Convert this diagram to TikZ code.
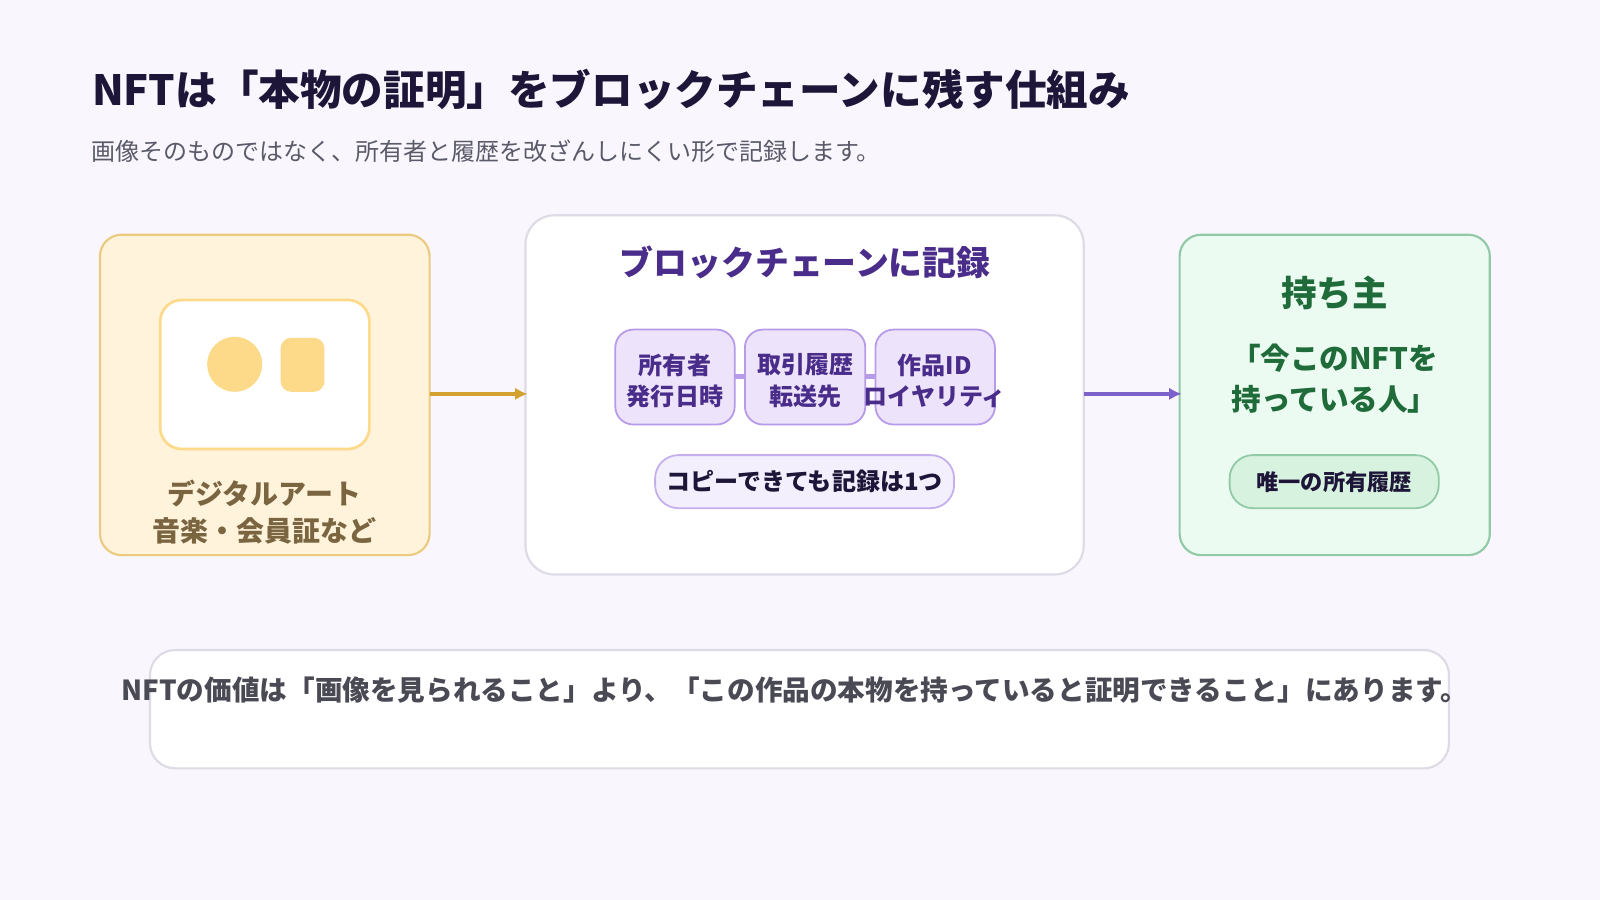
\documentclass[tikz,border=0pt]{standalone}
\usepackage{fontspec}
\setmainfont{Noto Sans CJK JP}
\usetikzlibrary{arrows.meta}
\begin{document}
\definecolor{bg}{HTML}{F9F7FD}
\definecolor{navy}{HTML}{1E1638}
\definecolor{sub}{HTML}{5A5A6A}
\definecolor{pur}{HTML}{4A2C8A}
\definecolor{chipf}{HTML}{EDE4FB}
\definecolor{chipb}{HTML}{B89BE8}
\definecolor{grn}{HTML}{1F6B3A}
\definecolor{brn}{HTML}{7A6540}
\definecolor{gold}{HTML}{D4A030}
\definecolor{yel}{HTML}{FDD98A}
\definecolor{lfill}{HTML}{FFF3DC}
\definecolor{lbord}{HTML}{EBCB80}
\definecolor{mbord}{HTML}{DEDAE6}
\definecolor{rfill}{HTML}{ECFBF1}
\definecolor{rbord}{HTML}{92C9A6}
\definecolor{rpill}{HTML}{D8F2E0}
\definecolor{arrp}{HTML}{7B61C9}
\definecolor{btxt}{HTML}{4A4A55}
\begin{tikzpicture}[x=0.02cm,y=-0.02cm,
  box/.style={draw,line width=1.2pt,rounded corners=12pt},
  chip/.style={draw=chipb,fill=chipf,line width=1pt,rounded corners=10pt},
  ctext/.style={font=\bfseries\fontsize{13.4}{17.5}\selectfont,text=pur,align=center},
  arr/.style={line width=2.5pt,-{Latex[length=7pt,width=7pt]}}]
\fill[bg] (0,0) rectangle (1568,882);
\useasboundingbox (0,0) rectangle (1568,882);
\node[anchor=west,text=navy,font=\bfseries\fontsize{23.2}{28}\selectfont] (t) at (84,88) {NFTは「本物の証明」をブロックチェーンに残す仕組み};
\node[anchor=west,text=sub,font=\fontsize{13.4}{16}\selectfont] (s) at (83,148) {画像そのものではなく、所有者と履歴を改ざんしにくい形で記録します。};
% left
\draw[box,draw=lbord,fill=lfill] (98,230) rectangle (421,544);
\node[draw=yel,line width=1.5pt,fill=white,rounded corners=12pt,minimum width=205*0.02cm,minimum height=146*0.02cm] (card) at (259.5,367) {};
\fill[yel] (230,357) circle (27);
\fill[yel,rounded corners=6pt] (275,331) rectangle (318,384);
\node[text=brn,font=\bfseries\fontsize{15.6}{21}\selectfont,align=center] (lt) at (259,502) {デジタルアート\\音楽・会員証など};
\coordinate (l) at (421,386);
% middle
\draw[box,draw=mbord,fill=white,rounded corners=16pt] (515,211) rectangle (1062,563);
\coordinate (ml) at (517,386); \coordinate (mr) at (1062,386);
\node[text=pur,font=\bfseries\fontsize{18.9}{22}\selectfont] (mt) at (789,257) {ブロックチェーンに記録};
\draw[chipb,line width=3pt] (720,369) -- (730,369) (848,369) -- (858,369);
\draw[chip] (603,323) rectangle (720,416);
\draw[chip] (730,323) rectangle (848,416);
\draw[chip] (858,323) rectangle (975,416);
\node[ctext] (c1) at (661.5,373) {所有者\\発行日時};
\node[ctext] (c2) at (789,373) {取引履歴\\転送先};
\node[ctext] (c3) at (916,373) {作品ID\\ロイヤリティ};
\node[draw=chipb!80,fill=chipf!60,line width=1pt,rounded corners=13pt,minimum width=293*0.02cm,minimum height=52*0.02cm,text=navy,font=\bfseries\fontsize{13.4}{16}\selectfont] (p1) at (788.5,472) {コピーできても記録は1つ};
% right
\draw[box,draw=rbord,fill=rfill] (1156,230) rectangle (1460,544);
\coordinate (r) at (1158,386);
\node[text=grn,font=\bfseries\fontsize{19.8}{22}\selectfont] (rt) at (1308,287) {持ち主};
\node[text=grn,font=\bfseries\fontsize{16.5}{22.5}\selectfont,align=center] (rq) at (1308,371) {「今このNFTを\\持っている人」};
\node[draw=rbord,fill=rpill,line width=1pt,rounded corners=13pt,minimum width=205*0.02cm,minimum height=52*0.02cm,text=navy,font=\bfseries\fontsize{12.4}{16}\selectfont] (p2) at (1307.5,472) {唯一の所有履歴};
% arrows
\draw[arr,gold] (l) -- (ml);
\draw[arr,arrp] (mr) -- (r);
% bottom
\draw[box,draw=mbord,fill=white,rounded corners=14pt] (147,637) rectangle (1420,753);
\node[text=btxt,font=\bfseries\fontsize{15.4}{18}\selectfont] (bt) at (779,676) {NFTの価値は「画像を見られること」より、「この作品の本物を持っていると証明できること」にあります。};
\end{tikzpicture}
\end{document}
